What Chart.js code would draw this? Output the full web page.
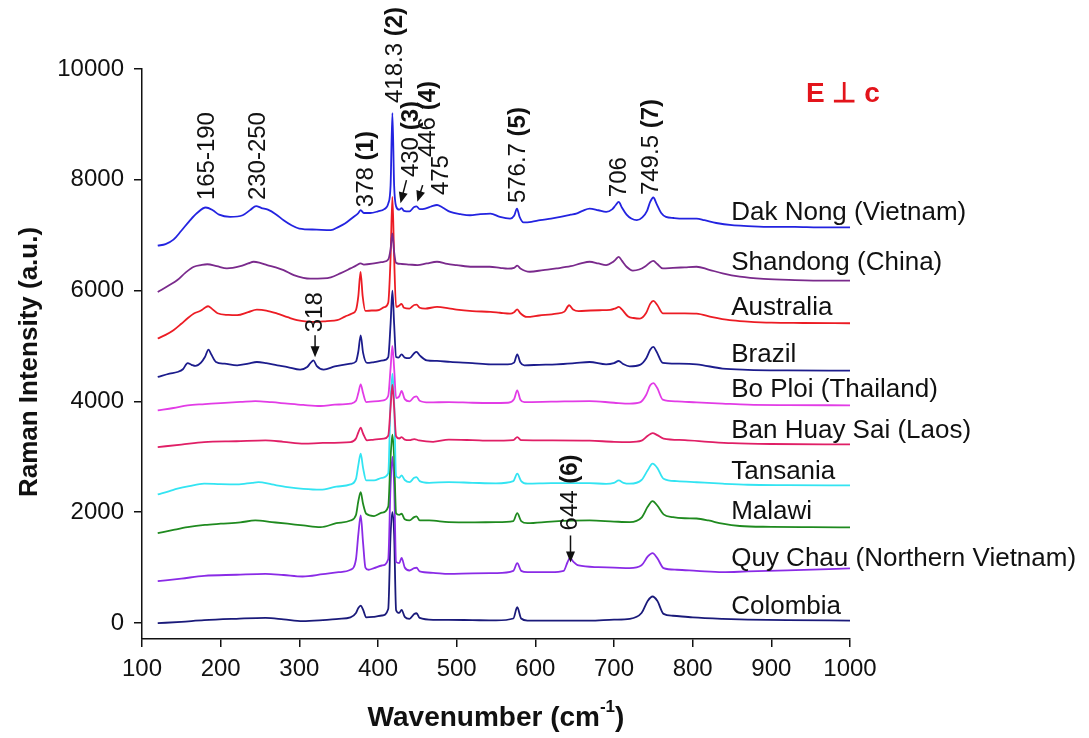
<!DOCTYPE html>
<html>
<head>
<meta charset="utf-8">
<script src="https://cdn.jsdelivr.net/npm/chart.js@4.4.1/dist/chart.umd.min.js"></script>
<style>
  html, body { margin: 0; padding: 0; background: #fff; }
  #wrap { width: 1089px; height: 738px; position: relative; }
</style>
</head>
<body>
<div id="wrap"><canvas id="c" width="1089" height="738"></canvas></div>
<script>
// Raman spectra (E ⊥ c), offset vertically per sample. Pairs are [wavenumber, intensity].
const wavenumberTicks = [100, 200, 300, 400, 500, 600, 700, 800, 900, 1000];
const intensityTicks = [0, 2000, 4000, 6000, 8000, 10000];

const sampleNames = [
  'Dak Nong (Vietnam)', 'Shandong (China)', 'Australia', 'Brazil', 'Bo Ploi (Thailand)',
  'Ban Huay Sai (Laos)', 'Tansania', 'Malawi', 'Quy Chau (Northern Vietnam)', 'Colombia'
];
const sampleColors = [
  '#2323e0', '#7a2a8c', '#ec1c24', '#1c1c8c', '#e23ce6',
  '#e01f66', '#33e4f2', '#1f8a1f', '#8a2be6', '#1a1a7a'
];

const dakNong = [[120,6810],[130,6840],[140,6920],[150,7080],[160,7250],[170,7400],[181,7500],[190,7450],[198,7370],[212,7330],[228,7360],[238,7460],[245,7525],[252,7490],[260,7460],[270,7380],[280,7270],[290,7180],[300,7120],[322,7100],[340,7090],[350,7150],[358,7210],[368,7320],[375,7400],[378,7450],[382,7400],[390,7400],[400,7430],[408,7470],[413,7570],[416,7900],[418.3,9205],[420.5,7900],[423,7520],[427,7460],[430,7490],[433,7440],[440,7430],[446,7510],[449,7520],[453,7470],[460,7480],[468,7520],[475,7545],[482,7500],[492,7420],[505,7380],[517,7360],[530,7380],[543,7390],[555,7330],[568,7300],[573,7350],[576.7,7480],[580,7330],[585,7230],[595,7240],[606,7270],[620,7300],[632,7330],[645,7370],[652,7390],[660,7440],[669,7480],[680,7450],[690,7420],[698,7470],[702,7540],[706,7600],[710,7500],[716,7370],[722,7300],[729,7270],[736,7320],[742,7440],[746,7600],[750,7680],[754,7570],[760,7400],[766,7330],[776,7310],[788,7300],[805,7300],[815,7270],[830,7220],[850,7180],[870,7165],[900,7150],[930,7150],[960,7140],[1000,7140]];

const shandong = [[120,5975],[135,6100],[145,6190],[155,6320],[166,6430],[175,6460],[183,6475],[195,6440],[208,6400],[225,6440],[235,6490],[242,6520],[250,6500],[259,6460],[270,6420],[280,6370],[293,6280],[305,6230],[314,6215],[330,6220],[340,6240],[352,6310],[365,6400],[372,6450],[378,6490],[382,6470],[395,6490],[407,6520],[413,6560],[416,6750],[418.3,7030],[420.5,6700],[423,6500],[430,6480],[440,6470],[450,6460],[462,6490],[475,6520],[488,6480],[500,6460],[520,6430],[542,6430],[555,6410],[565,6395],[573,6410],[577,6450],[581,6400],[593,6340],[610,6370],[627,6400],[645,6440],[658,6490],[669,6520],[680,6490],[690,6460],[698,6510],[702,6560],[706,6610],[710,6540],[716,6430],[724,6360],[732,6380],[740,6440],[745,6500],[750,6535],[755,6480],[762,6400],[775,6410],[790,6420],[805,6430],[820,6380],[838,6310],[860,6250],[890,6210],[930,6190],[970,6180],[1000,6180]];

const australia = [[120,5134],[130,5200],[140,5284],[150,5400],[158,5500],[166,5585],[175,5640],[180,5690],[184,5717],[189,5670],[196,5590],[210,5560],[221,5555],[235,5610],[246,5655],[258,5640],[272,5585],[285,5520],[297,5465],[310,5440],[323,5434],[335,5450],[348,5465],[358,5530],[367,5585],[372,5650],[375,5900],[377.8,6337],[380.5,5900],[384,5632],[392,5640],[400,5645],[408,5700],[413,5780],[416,6600],[418.3,7690],[420.5,6600],[423,5705],[426,5720],[430,5760],[433,5690],[440,5675],[446,5740],[449,5745],[453,5690],[460,5675],[475,5705],[490,5680],[500,5657],[520,5630],[543,5615],[555,5600],[568,5585],[573,5610],[577,5660],[581,5590],[589,5524],[605,5550],[627,5585],[637,5620],[643,5735],[648,5660],[655,5630],[670,5640],[682,5645],[695,5650],[702,5680],[706,5705],[710,5660],[718,5530],[725,5505],[733,5495],[741,5600],[746,5760],[750,5813],[755,5740],[762,5590],[775,5590],[790,5590],[805,5585],[825,5520],[847,5465],[870,5440],[900,5420],[940,5415],[1000,5410]];

const brazil = [[120,4440],[135,4500],[145,4530],[152,4580],[158,4690],[163,4660],[168,4640],[175,4700],[180,4800],[184.5,4935],[188,4850],[194,4711],[205,4680],[221,4651],[235,4680],[246,4711],[258,4690],[272,4651],[285,4620],[301,4573],[310,4620],[314,4690],[318,4741],[322,4640],[331,4573],[345,4630],[365,4681],[372,4720],[375,4900],[378,5193],[381,4880],[386,4693],[395,4710],[407,4741],[413,4800],[416,5400],[418.3,6000],[420.5,5400],[423,4800],[426,4790],[430,4850],[434,4790],[440,4780],[446,4870],[449,4892],[453,4830],[462,4741],[475,4730],[492,4711],[520,4690],[543,4669],[565,4669],[573,4700],[577,4850],[581,4700],[586,4651],[605,4660],[627,4669],[650,4690],[669,4711],[690,4669],[700,4690],[706,4729],[711,4680],[720,4633],[733,4660],[741,4780],[746,4930],[750,4982],[754,4900],[762,4693],[780,4680],[805,4669],[838,4591],[870,4570],[920,4560],[1000,4555]];

const boPloi = [[120,3838],[140,3880],[158,3929],[180,3950],[200,3970],[225,3990],[244,4006],[265,3985],[285,3959],[305,3935],[327,3916],[345,3940],[365,3959],[372,4010],[375,4150],[378,4308],[381,4150],[385,3988],[395,4000],[407,4019],[413,4100],[416,4600],[418.3,5000],[420.5,4600],[423,4060],[427,4090],[430,4187],[434,4040],[440,4001],[446,4080],[449,4091],[453,4010],[465,3980],[490,3988],[520,3975],[543,3970],[565,3975],[573,4040],[577,4200],[581,4030],[586,3988],[620,3995],[669,4006],[700,3975],[720,3959],[733,3980],[741,4120],[746,4290],[750,4331],[755,4240],[762,4031],[780,4000],[805,3980],[838,3959],[870,3940],[920,3932],[1000,3929]];

const banHuaySai = [[120,3175],[150,3220],[179,3265],[220,3280],[257,3296],[280,3270],[306,3236],[330,3250],[365,3265],[372,3330],[375,3440],[378,3525],[381,3420],[386,3296],[395,3310],[407,3327],[413,3380],[416,3900],[418.3,4300],[420.5,3900],[423,3370],[427,3330],[430,3356],[434,3310],[440,3300],[446,3320],[452,3296],[470,3270],[490,3309],[520,3300],[543,3290],[572,3300],[577,3356],[582,3300],[620,3296],[669,3290],[700,3270],[720,3265],[735,3290],[743,3380],[749,3428],[755,3390],[763,3327],[790,3300],[820,3270],[850,3245],[900,3230],[1000,3224]];

const tansania = [[120,2320],[135,2380],[145,2423],[160,2470],[179,2514],[200,2505],[221,2501],[240,2530],[248,2542],[265,2500],[285,2452],[305,2420],[327,2405],[347,2460],[365,2501],[372,2600],[375,2850],[378,3056],[381,2800],[385,2573],[395,2573],[405,2620],[413,2700],[416,4000],[418.3,4500],[420.5,4000],[423,2650],[427,2620],[430,2664],[434,2580],[440,2542],[446,2620],[449,2633],[453,2560],[465,2530],[490,2542],[520,2530],[550,2520],[572,2560],[577,2694],[582,2560],[590,2514],[620,2524],[669,2524],[690,2510],[700,2530],[706,2573],[712,2530],[720,2514],[735,2580],[743,2760],[749,2875],[755,2800],[763,2604],[780,2560],[805,2540],[838,2514],[870,2495],[920,2488],[1000,2483]];

const malawi = [[120,1621],[140,1680],[158,1729],[180,1770],[200,1791],[225,1815],[244,1850],[265,1820],[285,1791],[305,1760],[327,1729],[347,1800],[365,1850],[372,1950],[375,2200],[378,2362],[381,2150],[385,1971],[395,1930],[405,1990],[413,2100],[416,3000],[418.3,3400],[420.5,3000],[423,1980],[427,1950],[430,1971],[434,1870],[440,1850],[446,1910],[449,1923],[453,1850],[465,1850],[490,1820],[520,1815],[550,1820],[572,1840],[577,1982],[582,1840],[590,1802],[620,1830],[669,1850],[700,1830],[720,1820],[735,1900],[743,2100],[749,2199],[755,2120],[763,1960],[775,1910],[790,1890],[805,1885],[820,1850],[838,1791],[860,1750],[900,1735],[950,1728],[1000,1724]];

const quyChau = [[120,754],[150,800],[179,850],[220,870],[257,887],[280,865],[304,838],[330,880],[350,916],[365,960],[372,1150],[375,1600],[378,1941],[381,1450],[384,1000],[388,960],[395,990],[405,1037],[413,1150],[416,2500],[418.3,3000],[420.5,2500],[423,1100],[427,1080],[430,1176],[434,1000],[440,947],[446,990],[449,996],[453,930],[470,905],[490,887],[520,895],[550,900],[572,940],[577,1079],[582,940],[590,916],[620,916],[636,940],[641,1100],[644,1176],[648,1110],[655,1037],[680,1007],[700,1000],[720,990],[735,1040],[743,1200],[749,1259],[755,1170],[763,990],[780,960],[805,940],[838,916],[870,930],[920,950],[1000,985]];

const colombia = [[120,-5],[150,20],[179,50],[220,75],[257,92],[280,65],[304,31],[330,50],[350,74],[365,100],[372,180],[375,270],[378,314],[381,240],[385,100],[395,110],[405,134],[413,250],[416,1600],[418.3,2000],[420.5,1600],[423,230],[427,180],[430,237],[434,110],[440,74],[446,160],[449,175],[453,90],[470,56],[490,56],[520,50],[550,45],[572,80],[577,284],[582,80],[590,43],[620,43],[669,40],[700,60],[720,74],[735,180],[743,400],[749,477],[755,400],[763,164],[775,130],[800,100],[838,74],[870,60],[920,50],[1000,43]];

const spectra = [dakNong, shandong, australia, brazil, boPloi, banHuaySai, tansania, malawi, quyChau, colombia];

// Label placement for each trace name (wavenumber of left edge, intensity of text middle)
const nameLabelWn = 849;
const nameLabelAt = [7398, 6495, 5682, 4833, 4200, 3477, 2723, 2000, 1164, 284];

// Vertical peak labels: [wavenumber, intensity at text start, plain part, bold part]
const peakLabels = [
  [183, 7633, '165-190', ''],
  [247.7, 7633, '230-250', ''],
  [385.7, 7506, '378 ', '(1)'],
  [421.6, 9386, '418.3 ', '(2)'],
  [442.8, 8049, '430 ', '(3)'],
  [463.9, 8410, '446 ', '(4)'],
  [481, 7724, '475', ''],
  [578.2, 7579, '576.7 ', '(5)'],
  [707.4, 7687, '706', ''],
  [747.6, 7724, '749.5 ', '(7)'],
  [320, 5247, '318', ''],
  [644.7, 1670, '644 ', '(6)']
];
// Pointer arrows: [wn from, intensity from, wn to, intensity to]
const pointerArrows = [
  [436.2, 7994, 428.6, 7578],
  [456.8, 7904, 450, 7602],
  [320, 5193, 320, 4795],
  [644.7, 1579, 644.7, 1091]
];

const FONT = '"Liberation Sans", Arial, Helvetica, sans-serif';

const decorations = {
  id: 'decorations',
  afterDraw(chart) {
    const { ctx, scales: { x, y }, chartArea } = chart;
    ctx.save();
    ctx.fillStyle = '#111';
    ctx.strokeStyle = '#111';

    // trace names
    ctx.font = '26px ' + FONT;
    ctx.textAlign = 'left';
    ctx.textBaseline = 'middle';
    sampleNames.forEach((n, i) => {
      ctx.fillText(n, x.getPixelForValue(nameLabelWn), y.getPixelForValue(nameLabelAt[i]));
    });

    // rotated peak labels
    peakLabels.forEach(([wn, at, plain, bold]) => {
      ctx.save();
      ctx.translate(x.getPixelForValue(wn), y.getPixelForValue(at));
      ctx.rotate(-Math.PI / 2);
      ctx.textAlign = 'left';
      ctx.textBaseline = 'middle';
      ctx.font = '24px ' + FONT;
      ctx.fillText(plain, 0, 0);
      const w = ctx.measureText(plain).width;
      if (bold) {
        ctx.font = 'bold 24px ' + FONT;
        ctx.fillText(bold, w, 0);
      }
      ctx.restore();
    });

    // arrows
    ctx.lineWidth = 1.5;
    pointerArrows.forEach(([x1, y1, x2, y2]) => {
      const ax = x.getPixelForValue(x1), ay = y.getPixelForValue(y1);
      const bx = x.getPixelForValue(x2), by = y.getPixelForValue(y2);
      const ang = Math.atan2(by - ay, bx - ax);
      const hl = 11, hw = 4.5;
      ctx.beginPath();
      ctx.moveTo(ax, ay);
      ctx.lineTo(bx - Math.cos(ang) * hl * 0.8, by - Math.sin(ang) * hl * 0.8);
      ctx.stroke();
      ctx.beginPath();
      ctx.moveTo(bx, by);
      ctx.lineTo(bx - Math.cos(ang) * hl - Math.sin(ang) * hw, by - Math.sin(ang) * hl + Math.cos(ang) * hw);
      ctx.lineTo(bx - Math.cos(ang) * hl + Math.sin(ang) * hw, by - Math.sin(ang) * hl - Math.cos(ang) * hw);
      ctx.closePath();
      ctx.fill();
    });

    // polarisation tag
    ctx.fillStyle = '#e3141b';
    ctx.font = 'bold 28px ' + FONT;
    ctx.textAlign = 'left';
    ctx.textBaseline = 'middle';
    ctx.fillText('E \u22A5 c', 806, 94);

    // axis titles
    ctx.fillStyle = '#111';
    ctx.save();
    ctx.translate(30, 362);
    ctx.rotate(-Math.PI / 2);
    ctx.font = 'bold 26px ' + FONT;
    ctx.textAlign = 'center';
    ctx.textBaseline = 'middle';
    ctx.fillText('Raman Intensity (a.u.)', 0, 0);
    ctx.restore();

    const main = 'Wavenumber (cm', sup = '-1', tail = ')';
    ctx.font = 'bold 28px ' + FONT;
    const w1 = ctx.measureText(main).width, w3 = ctx.measureText(tail).width;
    ctx.font = 'bold 17px ' + FONT;
    const w2 = ctx.measureText(sup).width;
    const total = w1 + w2 + w3;
    let tx = (chartArea.left + chartArea.right) / 2 - total / 2;
    const ty = 718;
    ctx.textAlign = 'left';
    ctx.textBaseline = 'middle';
    ctx.font = 'bold 28px ' + FONT;
    ctx.fillText(main, tx, ty);
    ctx.font = 'bold 17px ' + FONT;
    ctx.fillText(sup, tx + w1, ty - 11);
    ctx.font = 'bold 28px ' + FONT;
    ctx.fillText(tail, tx + w1 + w2, ty);
    ctx.restore();
  }
};

const datasets = spectra.map((s, i) => ({
  label: sampleNames[i],
  data: s,
  borderColor: sampleColors[i],
  backgroundColor: sampleColors[i],
  borderWidth: 1.8,
  pointRadius: 0,
  cubicInterpolationMode: 'monotone',
  fill: false
}));

const plainNumber = v => String(v);

new Chart(document.getElementById('c'), {
  type: 'line',
  data: { datasets },
  options: {
    responsive: false,
    animation: false,
    parsing: true,
    layout: { padding: { left: 0, right: 239, top: 69, bottom: 0 } },
    plugins: { legend: { display: false }, tooltip: { enabled: false }, title: { display: false } },
    scales: {
      x: {
        type: 'linear',
        min: 100, max: 1000,
        afterBuildTicks: s => { s.ticks = wavenumberTicks.map(v => ({ value: v })); },
        afterFit: s => { s.height = 99; },
        border: { display: true, color: '#111', width: 1.5 },
        grid: { display: true, drawOnChartArea: false, drawTicks: true, tickLength: 8, color: '#111', lineWidth: 1.5 },
        ticks: { color: '#111', font: { family: FONT, size: 24 }, padding: 8, maxRotation: 0, autoSkip: false, callback: plainNumber }
      },
      y: {
        type: 'linear',
        min: -290, max: 10000,
        afterBuildTicks: s => { s.ticks = intensityTicks.map(v => ({ value: v })); },
        afterFit: s => { s.width = 142; },
        border: { display: true, color: '#111', width: 1.5 },
        grid: { display: true, drawOnChartArea: false, drawTicks: true, tickLength: 8, color: '#111', lineWidth: 1.5 },
        ticks: { color: '#111', font: { family: FONT, size: 24 }, padding: 10, autoSkip: false, callback: plainNumber }
      }
    }
  },
  plugins: [decorations]
});
</script>
</body>
</html>
